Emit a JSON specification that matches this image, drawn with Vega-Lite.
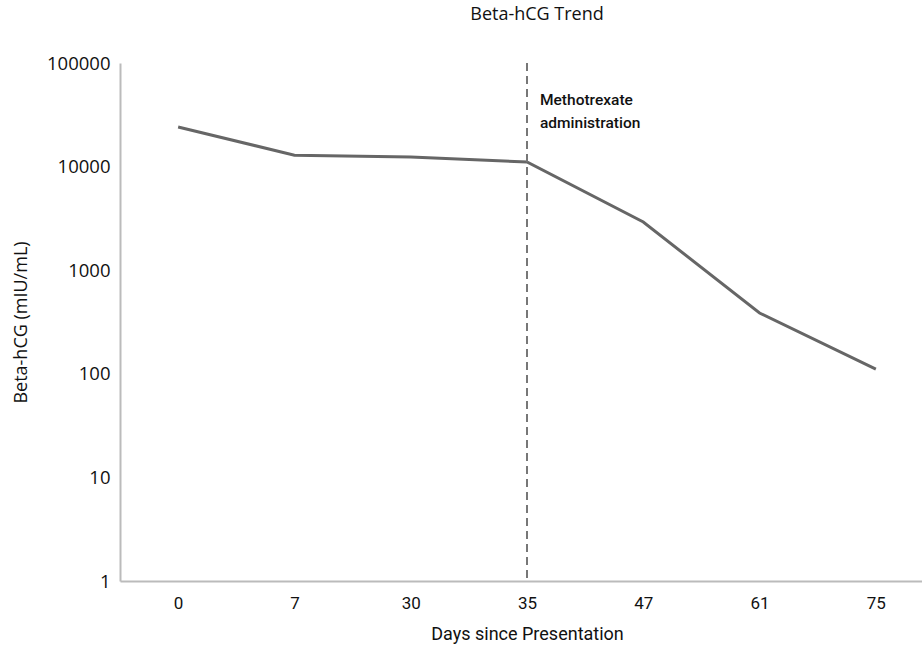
{
  "$schema": "https://vega.github.io/schema/vega-lite/v6.json",
  "width": 814,
  "height": 518,
  "autosize": {"type": "none"},
  "padding": {"left": 120, "top": 63, "right": 0, "bottom": 65},
  "background": "white",
  "config": {"view": {"stroke": null}},
  "title": {
    "text": "Beta-hCG Trend",
    "font": "Open Sans",
    "fontSize": 18,
    "fontWeight": "normal",
    "color": "#111",
    "anchor": "middle",
    "offset": 30,
    "dx": 10
  },
  "datasets": {
    "hcg": [
      {"day": "0", "value": 24100},
      {"day": "7", "value": 12900},
      {"day": "30", "value": 12400},
      {"day": "35", "value": 11070},
      {"day": "47", "value": 2920},
      {"day": "61", "value": 386},
      {"day": "75", "value": 111}
    ],
    "event": [
      {"day": "35", "value": 44000, "label": "Methotrexate\nadministration"}
    ]
  },
  "encoding": {
    "x": {
      "field": "day",
      "type": "ordinal",
      "sort": null,
      "scale": {"type": "point", "padding": 0.5, "domain": ["0", "7", "30", "35", "47", "61", "75"]},
      "axis": {
        "title": "Days since Presentation",
        "titleFont": "Roboto",
        "titleFontSize": 18,
        "titleFontWeight": "normal",
        "titleColor": "#111",
        "titlePadding": 14,
        "labelFont": "Roboto",
        "labelFontSize": 17,
        "labelColor": "#111",
        "labelAngle": 0,
        "labelPadding": 14,
        "ticks": false,
        "domainColor": "#bbbbbb",
        "domainWidth": 2,
        "grid": false
      }
    }
  },
  "layer": [
    {
      "data": {"name": "hcg"},
      "mark": {"type": "line", "color": "#666666", "strokeWidth": 3},
      "encoding": {
        "y": {
          "field": "value",
          "type": "quantitative",
          "scale": {"type": "log", "domain": [1, 100000], "nice": false},
          "axis": {
            "title": "Beta-hCG (mIU/mL)",
            "titleFont": "Open Sans",
            "titleFontSize": 18,
            "titleFontWeight": "normal",
            "titleColor": "#111",
            "titlePadding": 16,
            "values": [1, 10, 100, 1000, 10000, 100000],
            "format": "d",
            "labelFont": "Open Sans",
            "labelFontSize": 18.5,
            "labelColor": "#111",
            "labelPadding": 10,
            "ticks": false,
            "domainColor": "#bbbbbb",
            "domainWidth": 2,
            "grid": false
          }
        }
      }
    },
    {
      "data": {"name": "event"},
      "mark": {"type": "rule", "color": "#777777", "strokeWidth": 2, "strokeDash": [8, 5]},
      "encoding": {}
    },
    {
      "data": {"name": "event"},
      "mark": {
        "type": "text",
        "align": "left",
        "baseline": "middle",
        "dx": 13,
        "font": "Roboto",
        "fontWeight": 500,
        "fontSize": 15.5,
        "lineHeight": 23,
        "lineBreak": "\n",
        "color": "#111"
      },
      "encoding": {
        "y": {"field": "value", "type": "quantitative"},
        "text": {"field": "label"}
      }
    }
  ]
}
